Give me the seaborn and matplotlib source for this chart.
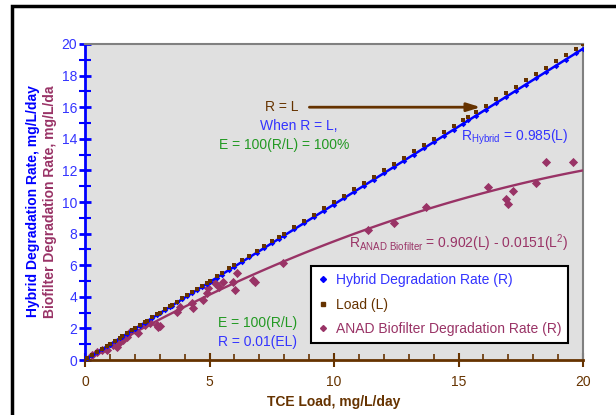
import numpy as np
import pandas as pd
import seaborn as sns
import matplotlib.pyplot as plt
from matplotlib.lines import Line2D
from matplotlib.patches import Rectangle
from matplotlib.ticker import MultipleLocator

# TCE load values (L) and hybrid degradation rate (R), mg/L/day
load = [0.1, 0.3, 0.5, 0.7, 0.9, 1.0, 1.2, 1.4, 1.5, 1.7, 1.9, 2.0, 2.2, 2.4, 2.5, 2.7,
        2.9, 3.0, 3.2, 3.4, 3.5, 3.7, 3.9, 4.1, 4.3, 4.5, 4.7, 4.9, 5.0, 5.3, 5.5, 5.8,
        6.0, 6.3, 6.6, 6.9, 7.2, 7.5, 7.8, 8.0, 8.4, 8.8, 9.2, 9.6, 10.0, 10.4, 10.8,
        11.2, 11.6, 12.0, 12.4, 12.8, 13.2, 13.6, 14.0, 14.4, 14.8, 15.2, 15.4, 15.7,
        16.1, 16.5, 16.9, 17.3, 17.7, 18.1, 18.5, 18.9, 19.3, 19.7, 20.0]
hybrid_r = [0.10, 0.29, 0.49, 0.69, 0.88, 0.98, 1.18, 1.37, 1.48, 1.67, 1.87, 1.97, 2.16,
            2.36, 2.46, 2.65, 2.85, 2.95, 3.15, 3.34, 3.44, 3.64, 3.84, 4.03, 4.23, 4.43,
            4.62, 4.82, 4.92, 5.21, 5.41, 5.71, 5.90, 6.20, 6.49, 6.79, 7.09, 7.38, 7.68,
            7.86, 8.27, 8.66, 9.06, 9.45, 9.84, 10.24, 10.63, 11.03, 11.42, 11.81, 12.21,
            12.60, 13.00, 13.39, 13.78, 14.18, 14.57, 14.96, 15.16, 15.46, 15.85, 16.25,
            16.64, 17.04, 17.43, 17.82, 18.22, 18.61, 19.01, 19.40, 19.70]
load_r = list(load)  # R = L

# ANAD biofilter
anad_l = [0.27, 0.47, 0.67, 0.87, 1.14, 1.27, 1.4, 1.54, 1.67, 1.8, 2.0, 2.14, 2.41, 2.61,
          2.88, 2.94, 3.0, 3.68, 3.8, 4.28, 4.35, 4.75, 4.88, 4.95, 5.22, 5.4, 5.55, 5.96,
          6.02, 6.09, 6.76, 6.82, 7.97, 11.35, 12.4, 13.7, 16.2, 16.9, 17.0, 17.2, 18.1,
          18.5, 19.6]
anad_r = [0.32, 0.53, 0.63, 0.63, 0.95, 0.84, 1.16, 1.27, 1.48, 1.79, 1.9, 1.68, 2.2, 2.32,
          2.2, 2.1, 2.15, 3.06, 3.37, 3.58, 3.27, 3.8, 4.22, 4.53, 4.85, 4.6, 4.95, 4.95,
          4.43, 5.48, 5.06, 4.95, 6.15, 8.2, 8.7, 9.7, 10.97, 10.2, 9.85, 10.7, 11.2,
          12.5, 12.5]

# trendline coefficients printed on the chart
hyb_coef = 0.985
anad_a, anad_b = 0.902, -0.0151

BLUE = '#0000ff'
TXT_BLUE = '#3333ff'
BROWN = '#663300'
PLUM = '#993366'
GREEN = '#229922'

sns.set_style('ticks')
plt.rcParams['font.family'] = ['Liberation Sans', 'DejaVu Sans']
plt.rcParams['font.size'] = 10

fig = plt.figure(figsize=(6.16, 4.15), dpi=100)
ax = fig.add_axes([85 / 616, 55 / 415, 498 / 616, 316 / 415])
ax.set_facecolor('#e0e0e0')

fit_x = np.linspace(0, 20, 101)
fits = pd.DataFrame({'L': fit_x,
                     'hyb': hyb_coef * fit_x,
                     'anad': anad_a * fit_x + anad_b * fit_x ** 2})

sns.scatterplot(x=anad_l, y=anad_r, ax=ax, marker='D', s=22, color=PLUM,
                edgecolor=PLUM, linewidth=0, zorder=3)
sns.lineplot(data=fits, x='L', y='anad', ax=ax, color=PLUM, linewidth=1.7, zorder=4)
sns.scatterplot(x=load, y=hybrid_r, ax=ax, marker='D', s=8, color=BLUE,
                edgecolor=BLUE, linewidth=0, zorder=5)
sns.lineplot(data=fits, x='L', y='hyb', ax=ax, color=BLUE, linewidth=1.8, zorder=6)
sns.scatterplot(x=load, y=load_r, ax=ax, marker='s', s=5, color=BROWN,
                edgecolor=BROWN, linewidth=0, zorder=7)

ax.set_xlim(0, 20)
ax.set_ylim(0, 20)
ax.xaxis.set_major_locator(MultipleLocator(5))
ax.xaxis.set_minor_locator(MultipleLocator(1))
ax.yaxis.set_major_locator(MultipleLocator(2))
ax.yaxis.set_minor_locator(MultipleLocator(1))

for s in ['top', 'right']:
    ax.spines[s].set_color('#808080')
    ax.spines[s].set_linewidth(1.5)
ax.spines['left'].set_color(BLUE)
ax.spines['left'].set_linewidth(2)
ax.spines['bottom'].set_color(BROWN)
ax.spines['bottom'].set_linewidth(2)

ax.tick_params(axis='y', which='major', direction='inout', length=9, width=2,
               color=BLUE, labelcolor=TXT_BLUE, labelsize=10, pad=1)
ax.tick_params(axis='y', which='minor', direction='inout', length=8, width=1.5, color=BLUE)
ax.tick_params(axis='x', which='major', direction='inout', length=10, width=1.5,
               color=BROWN, labelcolor=BROWN, labelsize=10, pad=6)
ax.tick_params(axis='x', which='minor', direction='in', length=4, width=1.2, color=BROWN)

ax.set_xlabel('TCE Load, mg/L/day', color=BROWN, fontweight='bold', labelpad=4)
ax.set_ylabel('')
fig.text(33 / 616, 0.515, 'Hybrid Degradation Rate, mg/L/day', rotation=90, color=BLUE,
         fontweight='bold', ha='center', va='center')
fig.text(50 / 616, 0.515, 'Biofilter Degradation Rate, mg/L/da', rotation=90, color=PLUM,
         fontweight='bold', ha='center', va='center')

# annotations
ax.annotate('', xy=(16.0, 16.0), xytext=(8.9, 16.0),
            arrowprops=dict(arrowstyle='-|>,head_length=0.8,head_width=0.25',
                            color=BROWN, lw=2))
ax.text(7.9, 16.0, 'R = L', color=BROWN, ha='center', va='center')
ax.text(8.6, 14.8, 'When R = L,', color=TXT_BLUE, ha='center', va='center')
ax.text(8.0, 13.6, 'E = 100(R/L) = 100%', color=GREEN, ha='center', va='center')
ax.text(15.1, 14.1, r'R$_{\mathregular{Hybrid}}$ = 0.985(L)', color=TXT_BLUE,
        ha='left', va='center')
ax.text(10.6, 7.4, r'R$_{\mathregular{ANAD\ Biofilter}}$ = 0.902(L) - 0.0151(L$^{\mathregular{2}}$)',
        color=PLUM, ha='left', va='center')
ax.text(5.35, 2.35, 'E = 100(R/L)', color=GREEN, ha='left', va='center')
ax.text(5.35, 1.15, 'R = 0.01(EL)', color=TXT_BLUE, ha='left', va='center')

handles = [Line2D([], [], marker='D', ls='', color=BLUE, markersize=3),
           Line2D([], [], marker='s', ls='', color=BROWN, markersize=2.5),
           Line2D([], [], marker='D', ls='', color=PLUM, markersize=3)]
labels = ['Hybrid Degradation Rate (R)', 'Load (L)', 'ANAD Biofilter Degradation Rate (R)']
leg = ax.legend(handles, labels, loc='lower right', bbox_to_anchor=(0.984, 0.032),
                frameon=True, fancybox=False, edgecolor='black', framealpha=1,
                labelcolor=[TXT_BLUE, BROWN, PLUM], handlelength=0.8, handletextpad=0.5,
                labelspacing=0.75, borderpad=0.5, fontsize=10)
leg.get_frame().set_linewidth(1.5)
leg.set_zorder(10)

# outer chart border
fig.patches.append(Rectangle((12 / 616, -0.1), 1.2, 1.1 - 6 / 415, transform=fig.transFigure,
                             fill=False, edgecolor='black', linewidth=2.5, clip_on=False))

fig.savefig('out.png', dpi=100)
